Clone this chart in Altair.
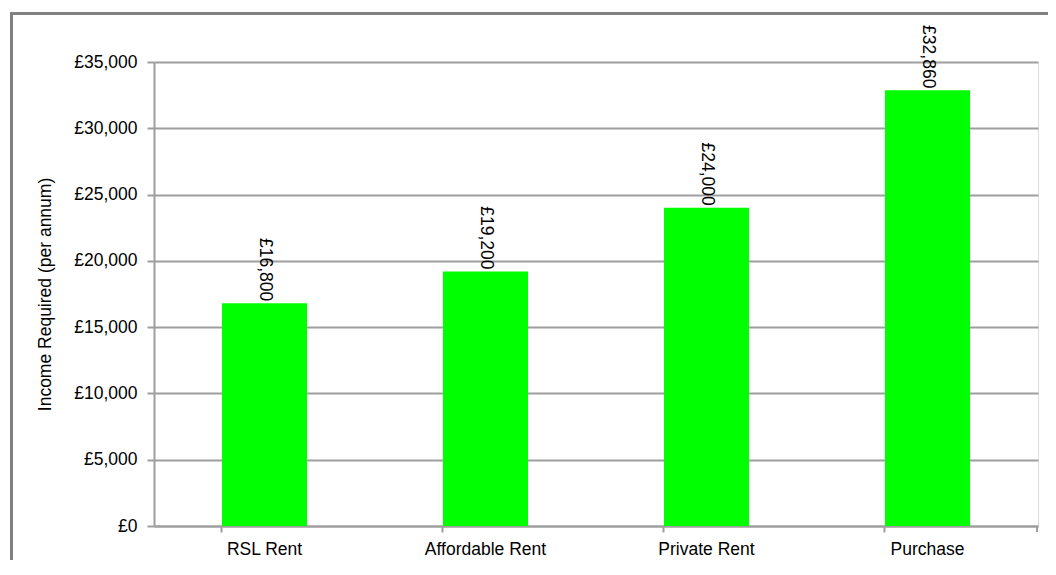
import altair as alt
import pandas as pd

categories = ["RSL Rent", "Affordable Rent", "Private Rent", "Purchase"]
values = [16800, 19200, 24000, 32860]
y_ticks = [0, 5000, 10000, 15000, 20000, 25000, 30000, 35000]

df = pd.DataFrame({"category": categories, "value": values})

FONT = "Liberation Sans"
W, H = 884, 464
GRID = "#9e9e9e"
PAD_R, PAD_B = 10, 34

x_enc = alt.X(
    "category:N",
    sort=categories,
    title=None,
    scale=alt.Scale(paddingInner=0.615, paddingOuter=0.3075),
    axis=alt.Axis(
        labelAngle=0, labelFont=FONT, labelFontSize=17.5, labelColor="#000000",
        labelPadding=8, tickSize=6, tickColor=GRID, tickWidth=2,
        domainColor=GRID, domainWidth=2, bandPosition=0, grid=False,
    ),
)
y_enc = alt.Y(
    "value:Q",
    title="Income Required (per annum)",
    scale=alt.Scale(domain=[0, 35000], nice=False),
    axis=alt.Axis(
        values=y_ticks,
        labelExpr="'£' + format(datum.value, ',')",
        labelFont=FONT, labelFontSize=17.5, labelColor="#000000",
        labelPadding=10, tickSize=7, tickColor=GRID, tickWidth=2,
        domainColor=GRID, domainWidth=2,
        grid=True, gridColor=GRID, gridWidth=2,
        titleFont=FONT, titleFontSize=17.5, titleFontWeight="normal", titleColor="#000000",
        titleAngle=270, titleAlign="center", titleBaseline="middle",
        titleX=-109, titleY=H / 2,
    ),
)

bars = alt.Chart(df).mark_bar(color="#00ff00").encode(x=x_enc, y=y_enc)

labels = alt.Chart(df).transform_calculate(
    label="'£' + format(datum.value, ',')"
).mark_text(
    angle=90, align="right", baseline="middle", dx=-2,
    font=FONT, fontSize=17.5, color="#000000",
).encode(
    x=alt.X("category:N", sort=categories),
    y=alt.Y("value:Q"),
    text="label:N",
)

end_tick = alt.Chart(df).mark_rule(color=GRID, strokeWidth=2).encode(
    x=alt.value(W - 1), y=alt.value(H), y2=alt.value(H + 6)
)

frame_top = alt.Chart(df).mark_rule(color="#808080", strokeWidth=3).encode(
    x=alt.value(-144), x2=alt.value(W + PAD_R), y=alt.value(-48.5)
)
frame_left = alt.Chart(df).mark_rule(color="#808080", strokeWidth=3).encode(
    x=alt.value(-142.5), y=alt.value(-50), y2=alt.value(H + PAD_B)
)

chart = alt.layer(bars, labels, end_tick, frame_top, frame_left).properties(
    width=W, height=H,
    autosize=alt.AutoSizeParams(type="none"),
    padding={"left": 146, "top": 54, "right": PAD_R, "bottom": PAD_B},
).configure_view(stroke=None).configure(background="#ffffff")

chart.save("out.html", embed_options={"renderer": "svg", "actions": False})
